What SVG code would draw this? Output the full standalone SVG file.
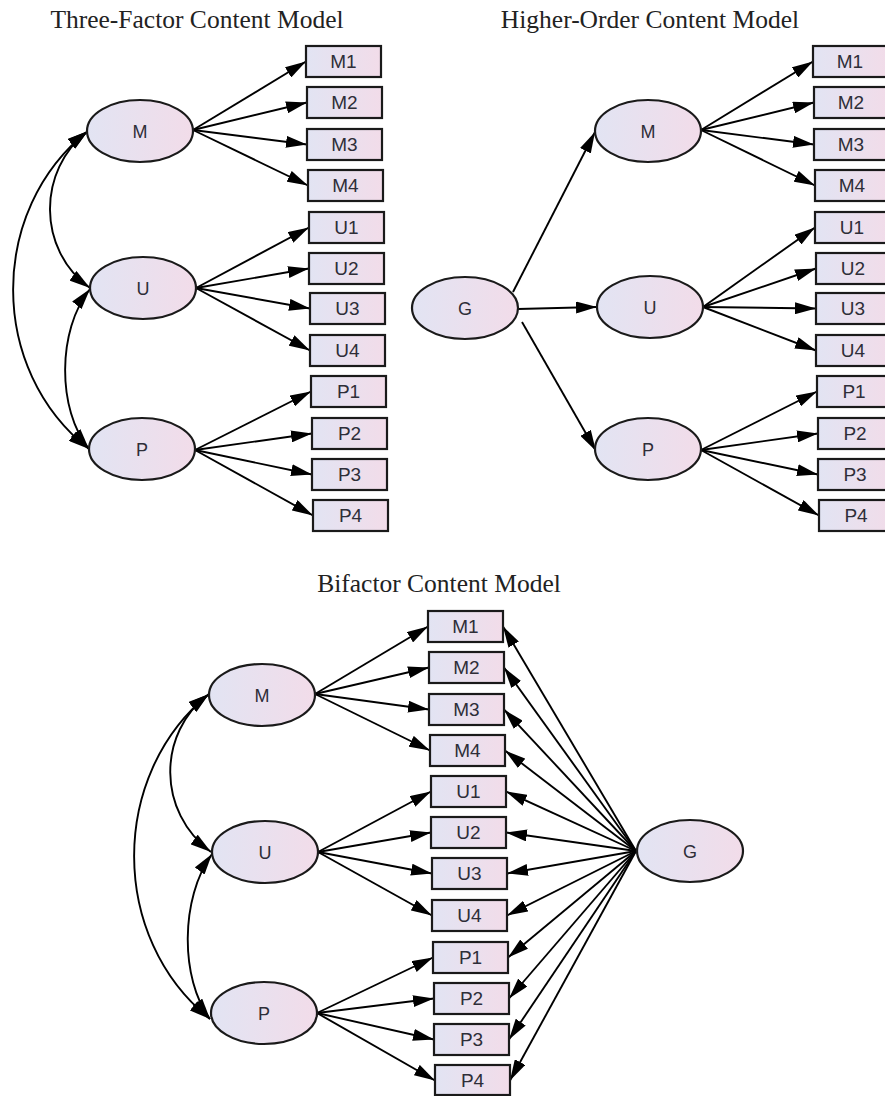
<svg xmlns="http://www.w3.org/2000/svg" width="885" height="1096" viewBox="0 0 885 1096">
<defs>
<linearGradient id="fillg" x1="0" y1="0" x2="1" y2="0">
<stop offset="0" stop-color="#e2e4f3"/>
<stop offset="1" stop-color="#f2dce9"/>
</linearGradient>
<marker id="ah" markerUnits="userSpaceOnUse" markerWidth="21" markerHeight="12" refX="21" refY="6" orient="auto-start-reverse" viewBox="0 0 21 12">
<path d="M0,0 L21,6 L0,12 z" fill="#000"/>
</marker>
<style>
.title{font-family:"Liberation Serif","Times New Roman",serif;font-size:25.5px;fill:#222;text-anchor:middle}
.box rect{fill:url(#fillg);stroke:#1a1a1a;stroke-width:2.2}
.box text{font-family:"Liberation Sans",Arial,sans-serif;font-size:19px;fill:#2e2e38;text-anchor:middle}
.lat ellipse{fill:url(#fillg);stroke:#1a1a1a;stroke-width:2.2}
.lat text{font-family:"Liberation Sans",Arial,sans-serif;font-size:18px;fill:#2e2e38;text-anchor:middle}
.conn line,.conn path{stroke:#000;stroke-width:1.9;fill:none;marker-end:url(#ah)}
.conn .cov{marker-start:url(#ah)}
</style>
</defs>
<rect width="885" height="1096" fill="#fff"/>
<text class="title" x="197" y="28">Three-Factor Content Model</text>
<text class="title" x="650" y="28">Higher-Order Content Model</text>
<text class="title" x="439" y="592">Bifactor Content Model</text>

<g id="connectors" class="conn">
<!-- top-left -->
<line x1="193" y1="130" x2="306" y2="61.5"/>
<line x1="193" y1="130" x2="307" y2="102.5"/>
<line x1="193" y1="130" x2="307" y2="144.5"/>
<line x1="193" y1="130" x2="308" y2="185.5"/>
<line x1="196" y1="288" x2="309" y2="227.5"/>
<line x1="196" y1="288" x2="309" y2="268.5"/>
<line x1="196" y1="288" x2="310" y2="308.5"/>
<line x1="196" y1="288" x2="310" y2="350.5"/>
<line x1="195" y1="450" x2="311" y2="391.5"/>
<line x1="195" y1="450" x2="312" y2="433.5"/>
<line x1="195" y1="450" x2="312" y2="474.5"/>
<line x1="195" y1="450" x2="313" y2="515.5"/>
<path class="cov" d="M88,131 C37,170 37,250 90,288"/>
<path class="cov" d="M88,131 C-12,210 -12,370 89,449"/>
<path class="cov" d="M90,289 C57,330 57,410 89,449"/>
<!-- top-right -->
<line x1="701" y1="130" x2="813" y2="61.5"/>
<line x1="701" y1="130" x2="814" y2="102.5"/>
<line x1="701" y1="130" x2="814" y2="144.5"/>
<line x1="701" y1="130" x2="815" y2="185.5"/>
<line x1="703" y1="307" x2="815" y2="227.5"/>
<line x1="703" y1="307" x2="816" y2="268.5"/>
<line x1="703" y1="307" x2="816" y2="308.5"/>
<line x1="703" y1="307" x2="816" y2="350.5"/>
<line x1="701" y1="450" x2="817" y2="391.5"/>
<line x1="701" y1="450" x2="818" y2="433.5"/>
<line x1="701" y1="450" x2="818" y2="474.5"/>
<line x1="701" y1="450" x2="819" y2="515.5"/>
<line x1="513" y1="292" x2="595" y2="132"/>
<line x1="518" y1="309" x2="597" y2="307"/>
<line x1="522" y1="322" x2="596" y2="451"/>
<!-- bottom -->
<line x1="315" y1="694" x2="428" y2="626.5"/>
<line x1="315" y1="694" x2="429" y2="667.5"/>
<line x1="315" y1="694" x2="429" y2="709.5"/>
<line x1="315" y1="694" x2="430" y2="750.5"/>
<line x1="318" y1="852" x2="431" y2="791.5"/>
<line x1="318" y1="852" x2="431" y2="832.5"/>
<line x1="318" y1="852" x2="432" y2="873.5"/>
<line x1="318" y1="852" x2="432" y2="915.5"/>
<line x1="317" y1="1013" x2="433" y2="957.5"/>
<line x1="317" y1="1013" x2="434" y2="998.5"/>
<line x1="317" y1="1013" x2="434" y2="1039.5"/>
<line x1="317" y1="1013" x2="435" y2="1080.5"/>
<line x1="636" y1="851" x2="503" y2="626.5"/>
<line x1="636" y1="851" x2="504" y2="667.5"/>
<line x1="636" y1="851" x2="504" y2="709.5"/>
<line x1="636" y1="851" x2="505" y2="750.5"/>
<line x1="636" y1="851" x2="506" y2="791.5"/>
<line x1="636" y1="851" x2="506" y2="832.5"/>
<line x1="636" y1="851" x2="507" y2="873.5"/>
<line x1="636" y1="851" x2="507" y2="915.5"/>
<line x1="636" y1="851" x2="508" y2="957.5"/>
<line x1="636" y1="851" x2="509" y2="998.5"/>
<line x1="636" y1="851" x2="509" y2="1039.5"/>
<line x1="636" y1="851" x2="510" y2="1080.5"/>
<path class="cov" d="M209,694 C157,733 157,812 211,852"/>
<path class="cov" d="M209,694 C109,775 109,938 210,1019"/>
<path class="cov" d="M212,854 C180,898 180,979 210,1019"/>
</g>

<!-- top-left nodes -->
<g id="tl-M" class="lat"><ellipse cx="140" cy="131" rx="53" ry="31"/><text x="140" y="137.5">M</text></g>
<g id="tl-U" class="lat"><ellipse cx="143" cy="288" rx="53" ry="31"/><text x="143" y="294.5">U</text></g>
<g id="tl-P" class="lat"><ellipse cx="142" cy="449" rx="53" ry="31"/><text x="142" y="455.5">P</text></g>
<g id="tl-M1" class="box"><rect x="306" y="46" width="75" height="31"/><text x="343.5" y="68">M1</text></g>
<g id="tl-M2" class="box"><rect x="307" y="87" width="75" height="31"/><text x="344.5" y="109">M2</text></g>
<g id="tl-M3" class="box"><rect x="307" y="129" width="75" height="31"/><text x="344.5" y="151">M3</text></g>
<g id="tl-M4" class="box"><rect x="308" y="170" width="75" height="31"/><text x="345.5" y="192">M4</text></g>
<g id="tl-U1" class="box"><rect x="309" y="212" width="75" height="31"/><text x="346.5" y="234">U1</text></g>
<g id="tl-U2" class="box"><rect x="309" y="253" width="75" height="31"/><text x="346.5" y="275">U2</text></g>
<g id="tl-U3" class="box"><rect x="310" y="293" width="75" height="31"/><text x="347.5" y="315">U3</text></g>
<g id="tl-U4" class="box"><rect x="310" y="335" width="75" height="31"/><text x="347.5" y="357">U4</text></g>
<g id="tl-P1" class="box"><rect x="311" y="376" width="75" height="31"/><text x="348.5" y="398">P1</text></g>
<g id="tl-P2" class="box"><rect x="312" y="418" width="75" height="31"/><text x="349.5" y="440">P2</text></g>
<g id="tl-P3" class="box"><rect x="312" y="459" width="75" height="31"/><text x="349.5" y="481">P3</text></g>
<g id="tl-P4" class="box"><rect x="313" y="500" width="75" height="31"/><text x="350.5" y="522">P4</text></g>

<!-- top-right nodes -->
<g id="tr-G" class="lat"><ellipse cx="465" cy="308" rx="53" ry="31"/><text x="465" y="314.5">G</text></g>
<g id="tr-M" class="lat"><ellipse cx="648" cy="131" rx="53" ry="31"/><text x="648" y="137.5">M</text></g>
<g id="tr-U" class="lat"><ellipse cx="650" cy="307" rx="53" ry="31"/><text x="650" y="313.5">U</text></g>
<g id="tr-P" class="lat"><ellipse cx="648" cy="449" rx="53" ry="31"/><text x="648" y="455.5">P</text></g>
<g id="tr-M1" class="box"><rect x="813" y="46" width="75" height="31"/><text x="850" y="68">M1</text></g>
<g id="tr-M2" class="box"><rect x="814" y="87" width="75" height="31"/><text x="851" y="109">M2</text></g>
<g id="tr-M3" class="box"><rect x="814" y="129" width="75" height="31"/><text x="851" y="151">M3</text></g>
<g id="tr-M4" class="box"><rect x="815" y="170" width="75" height="31"/><text x="852" y="192">M4</text></g>
<g id="tr-U1" class="box"><rect x="815" y="212" width="75" height="31"/><text x="852" y="234">U1</text></g>
<g id="tr-U2" class="box"><rect x="816" y="253" width="75" height="31"/><text x="853" y="275">U2</text></g>
<g id="tr-U3" class="box"><rect x="816" y="293" width="75" height="31"/><text x="853" y="315">U3</text></g>
<g id="tr-U4" class="box"><rect x="816" y="335" width="75" height="31"/><text x="853" y="357">U4</text></g>
<g id="tr-P1" class="box"><rect x="817" y="376" width="75" height="31"/><text x="854" y="398">P1</text></g>
<g id="tr-P2" class="box"><rect x="818" y="418" width="75" height="31"/><text x="855" y="440">P2</text></g>
<g id="tr-P3" class="box"><rect x="818" y="459" width="75" height="31"/><text x="855" y="481">P3</text></g>
<g id="tr-P4" class="box"><rect x="819" y="500" width="75" height="31"/><text x="856" y="522">P4</text></g>

<!-- bottom nodes -->
<g id="b-M" class="lat"><ellipse cx="262" cy="695" rx="53" ry="31"/><text x="262" y="701.5">M</text></g>
<g id="b-U" class="lat"><ellipse cx="265" cy="852" rx="53" ry="31"/><text x="265" y="858.5">U</text></g>
<g id="b-P" class="lat"><ellipse cx="264" cy="1013" rx="53" ry="31"/><text x="264" y="1019.5">P</text></g>
<g id="b-G" class="lat"><ellipse cx="690" cy="851" rx="53" ry="31"/><text x="690" y="857.5">G</text></g>
<g id="b-M1" class="box"><rect x="428" y="611" width="75" height="31"/><text x="465.5" y="633">M1</text></g>
<g id="b-M2" class="box"><rect x="429" y="652" width="75" height="31"/><text x="466.5" y="674">M2</text></g>
<g id="b-M3" class="box"><rect x="429" y="694" width="75" height="31"/><text x="466.5" y="716">M3</text></g>
<g id="b-M4" class="box"><rect x="430" y="735" width="75" height="31"/><text x="467.5" y="757">M4</text></g>
<g id="b-U1" class="box"><rect x="431" y="776" width="75" height="31"/><text x="468.5" y="798">U1</text></g>
<g id="b-U2" class="box"><rect x="431" y="817" width="75" height="31"/><text x="468.5" y="839">U2</text></g>
<g id="b-U3" class="box"><rect x="432" y="858" width="75" height="31"/><text x="469.5" y="880">U3</text></g>
<g id="b-U4" class="box"><rect x="432" y="900" width="75" height="31"/><text x="469.5" y="922">U4</text></g>
<g id="b-P1" class="box"><rect x="433" y="942" width="75" height="31"/><text x="470.5" y="964">P1</text></g>
<g id="b-P2" class="box"><rect x="434" y="983" width="75" height="31"/><text x="471.5" y="1005">P2</text></g>
<g id="b-P3" class="box"><rect x="434" y="1024" width="75" height="31"/><text x="471.5" y="1046">P3</text></g>
<g id="b-P4" class="box"><rect x="435" y="1065" width="75" height="30"/><text x="472.5" y="1087">P4</text></g>
</svg>
